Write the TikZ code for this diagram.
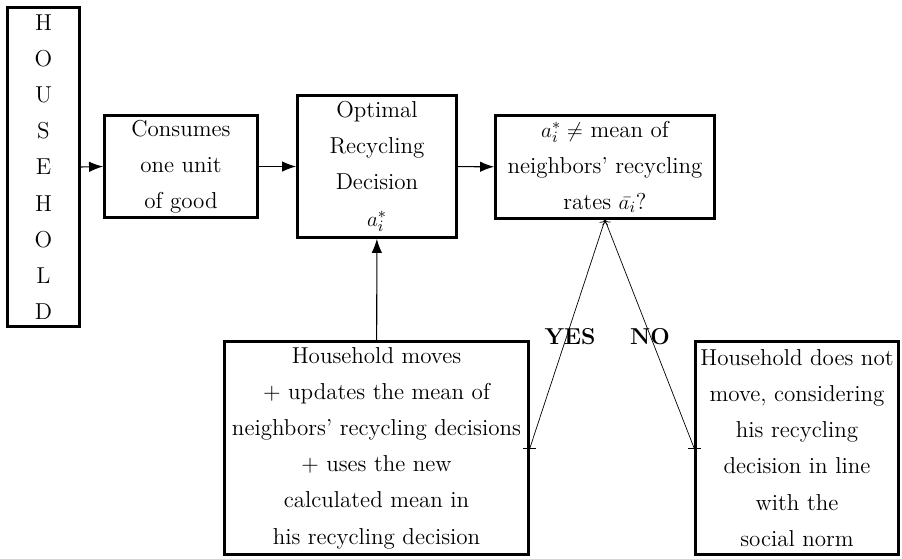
\documentclass[tikz,border=0pt]{standalone}
\usepackage{tikz}
\usetikzlibrary{arrows.meta}

\tikzset{
  box/.style={draw,line width=1.6pt,align=center,inner sep=2pt,
              font={\fontsize{13.1}{20.6}\selectfont}},
  flow/.style={line width=.6pt,-{Latex[length=8pt,width=6pt]}},
  choice/.style={line width=.4pt,->}
}

\begin{document}
\begin{tikzpicture}
\useasboundingbox (0,0) rectangle (18.04,-11.16);

%-------------------------------------------- Household column
\node[box,minimum width=1.44cm,minimum height=6.38cm] (house) at (0.87,-3.34)
     {H\\O\\U\\S\\E\\H\\O\\L\\D};

%-------------------------------------------- Top row
\node[box,minimum width=3.06cm,minimum height=2.04cm] (cons) at (3.62,-3.33)
     {Consumes\\one unit\\of good};
\node[box,minimum width=3.18cm,minimum height=2.84cm] (opt) at (7.54,-3.33)
     {Optimal\\Recycling\\Decision\\$a_i^*$};
\node[box,minimum width=4.38cm,minimum height=2.06cm] (quest) at (12.1,-3.34)
     {$a_i^* \neq$ mean of\\neighbors' recycling\\rates $\bar{a_i}$?};

%-------------------------------------------- Bottom row
\node[box,minimum width=6.08cm,minimum height=4.26cm] (moves) at (7.53,-8.96)
     {Household moves\\+ updates the mean of\\neighbors' recycling decisions\\+ uses the new\\calculated mean in\\his recycling decision};
\node[box,minimum width=4.06cm,minimum height=4.26cm] (stay) at (15.94,-8.96)
     {Household does not\\move, considering\\his recycling\\decision in line\\with the\\social norm};

%-------------------------------------------- Connectors
\draw[flow] (house.east) -- (cons.west);
\draw[flow] (cons) -- (opt);
\draw[flow] (opt) -- (quest);
\draw[flow] (moves) -- (opt);

% YES / NO branches
\draw[choice] (moves.east) -- (quest.south);
\draw[line width=.4pt] (moves.east) ++(-0.13,0) -- ++(0.26,0);
\draw[choice] (stay.west) -- (quest.south);
\draw[line width=.4pt] (stay.west) ++(-0.13,0) -- ++(0.26,0);

\node[font=\fontsize{13.1}{16}\selectfont\bfseries] (yes) at (11.4,-6.74) {YES};
\node[font=\fontsize{13.1}{16}\selectfont\bfseries] (no) at (13.0,-6.74) {NO};

\end{tikzpicture}
\end{document}
